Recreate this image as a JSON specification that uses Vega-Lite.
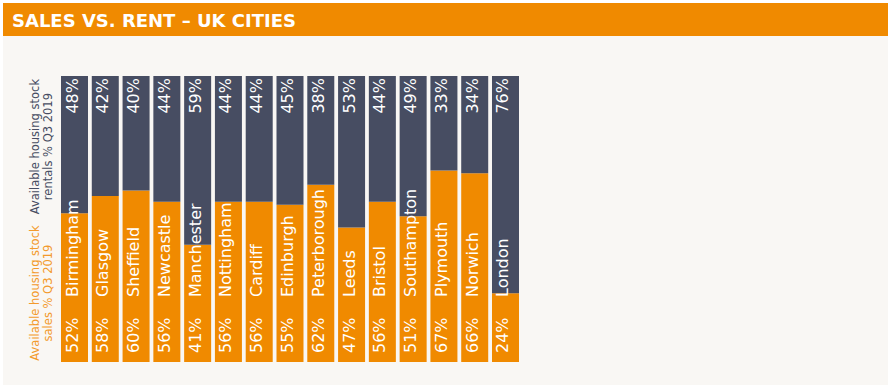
{
  "$schema": "https://vega.github.io/schema/vega-lite/v6.json",
  "padding": {"left": 3, "top": 3, "right": 5, "bottom": 0},
  "background": "#ffffff",
  "spacing": 0,
  "config": {"view": {"stroke": null}, "font": "DejaVu Sans"},
  "datasets": {
    "stock": [
      {"city": "Birmingham", "type": "Sales", "value": 0.52}, {"city": "Birmingham", "type": "Rent", "value": 0.48},
      {"city": "Glasgow", "type": "Sales", "value": 0.58}, {"city": "Glasgow", "type": "Rent", "value": 0.42},
      {"city": "Sheffield", "type": "Sales", "value": 0.60}, {"city": "Sheffield", "type": "Rent", "value": 0.40},
      {"city": "Newcastle", "type": "Sales", "value": 0.56}, {"city": "Newcastle", "type": "Rent", "value": 0.44},
      {"city": "Manchester", "type": "Sales", "value": 0.41}, {"city": "Manchester", "type": "Rent", "value": 0.59},
      {"city": "Nottingham", "type": "Sales", "value": 0.56}, {"city": "Nottingham", "type": "Rent", "value": 0.44},
      {"city": "Cardiff", "type": "Sales", "value": 0.56}, {"city": "Cardiff", "type": "Rent", "value": 0.44},
      {"city": "Edinburgh", "type": "Sales", "value": 0.55}, {"city": "Edinburgh", "type": "Rent", "value": 0.45},
      {"city": "Peterborough", "type": "Sales", "value": 0.62}, {"city": "Peterborough", "type": "Rent", "value": 0.38},
      {"city": "Leeds", "type": "Sales", "value": 0.47}, {"city": "Leeds", "type": "Rent", "value": 0.53},
      {"city": "Bristol", "type": "Sales", "value": 0.56}, {"city": "Bristol", "type": "Rent", "value": 0.44},
      {"city": "Southampton", "type": "Sales", "value": 0.51}, {"city": "Southampton", "type": "Rent", "value": 0.49},
      {"city": "Plymouth", "type": "Sales", "value": 0.67}, {"city": "Plymouth", "type": "Rent", "value": 0.33},
      {"city": "Norwich", "type": "Sales", "value": 0.66}, {"city": "Norwich", "type": "Rent", "value": 0.34},
      {"city": "London", "type": "Sales", "value": 0.24}, {"city": "London", "type": "Rent", "value": 0.76}
    ],
    "heading": [{"label": "SALES VS. RENT – UK CITIES"}]
  },
  "vconcat": [
    {
      "width": 885,
      "height": 33,
      "view": {"fill": "#f08a00", "stroke": null},
      "data": {"name": "heading"},
      "mark": {"type": "text", "align": "left", "baseline": "middle", "dx": 9, "dy": 2, "color": "#ffffff", "font": "DejaVu Sans", "fontSize": 18, "fontWeight": "bold"},
      "encoding": {
        "x": {"datum": 0, "type": "quantitative", "scale": {"domain": [0, 1]}, "axis": null},
        "text": {"field": "label", "type": "nominal"}
      }
    },
    {
      "width": 885,
      "height": 349,
      "view": {"fill": "#f9f7f4", "stroke": null},
      "data": {"name": "stock"},
      "encoding": {
        "x": {"field": "city", "type": "nominal", "sort": null, "axis": null,
              "scale": {"range": [56, 518], "paddingInner": 0.123, "paddingOuter": 0.065}}
      },
      "layer": [
        {
          "mark": {"type": "bar"},
          "encoding": {
            "y": {"field": "value", "type": "quantitative", "stack": "zero",
                  "scale": {"domain": [0, 1], "range": [326, 40], "nice": false},
                  "axis": {"orient": "left", "offset": -56, "values": [0.243, 0.755], "title": null,
                           "domain": false, "ticks": false, "grid": false, "labelAngle": -90,
                           "labelAlign": "center", "labelBaseline": "bottom", "labelPadding": 19,
                           "labelFont": "DejaVu Sans", "labelFontSize": 11.5, "labelLineHeight": 13,
                           "labelExpr": "datum.value > 0.5 ? ['Available housing stock', 'rentals % Q3 2019'] : ['Available housing stock', 'sales % Q3 2019']",
                           "labelColor": {"condition": {"test": "datum.value > 0.5", "value": "#474d62"}, "value": "#f39a2c"}}},
            "color": {"field": "type", "type": "nominal", "legend": null,
                      "scale": {"domain": ["Sales", "Rent"], "range": ["#f08a00", "#474d62"]}},
            "order": {"field": "type", "sort": "descending"}
          }
        },
        {
          "transform": [{"filter": "datum.type === 'Sales'"}],
          "mark": {"type": "text", "angle": -90, "align": "left", "baseline": "middle", "dx": 9, "dy": -2, "color": "#ffffff", "fontSize": 16, "font": "DejaVu Sans"},
          "encoding": {
            "y": {"datum": 0, "type": "quantitative"},
            "text": {"field": "value", "type": "quantitative", "format": ".0%"}
          }
        },
        {
          "transform": [{"filter": "datum.type === 'Sales'"}],
          "mark": {"type": "text", "angle": -90, "align": "left", "baseline": "middle", "dx": 65, "dy": -2, "color": "#ffffff", "fontSize": 16, "font": "DejaVu Sans"},
          "encoding": {
            "y": {"datum": 0, "type": "quantitative"},
            "text": {"field": "city", "type": "nominal"}
          }
        },
        {
          "transform": [{"filter": "datum.type === 'Rent'"}],
          "mark": {"type": "text", "angle": -90, "align": "right", "baseline": "middle", "dx": -2, "dy": -2, "color": "#ffffff", "fontSize": 16, "font": "DejaVu Sans"},
          "encoding": {
            "y": {"datum": 1, "type": "quantitative"},
            "text": {"field": "value", "type": "quantitative", "format": ".0%"}
          }
        }
      ]
    }
  ]
}
